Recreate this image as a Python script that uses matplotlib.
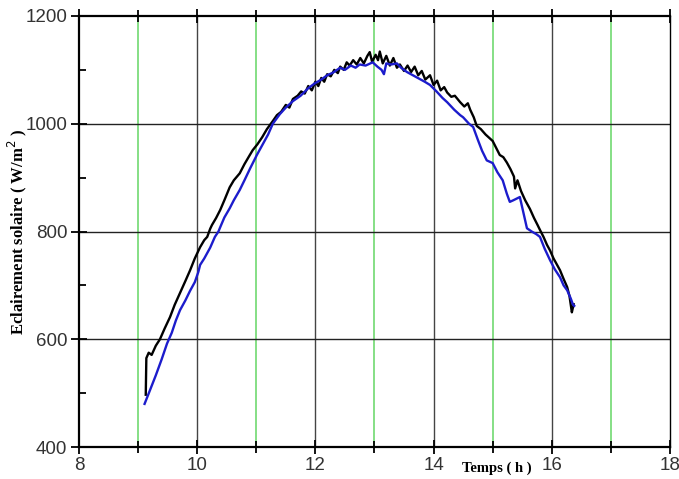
import matplotlib
matplotlib.use("Agg")
import matplotlib.pyplot as plt
from matplotlib.ticker import MultipleLocator

# mesure 1 (noir)
t_black = [9.13, 9.14, 9.18, 9.23, 9.30, 9.37, 9.45, 9.54, 9.62, 9.71, 9.80, 9.88, 9.96,
           10.05, 10.12, 10.17, 10.22, 10.25, 10.32, 10.39, 10.46, 10.55, 10.62, 10.72,
           10.80, 10.88, 10.94, 11.02, 11.10, 11.18, 11.28, 11.35, 11.42, 11.50, 11.56,
           11.62, 11.70, 11.76, 11.82, 11.88, 11.94, 12.00, 12.05, 12.10, 12.15, 12.20,
           12.26, 12.32, 12.38, 12.42, 12.48, 12.53, 12.58, 12.64, 12.70, 12.76, 12.82,
           12.88, 12.92, 12.96, 13.02, 13.06, 13.09, 13.14, 13.20, 13.26, 13.32, 13.38,
           13.43, 13.50, 13.56, 13.62, 13.68, 13.74, 13.80, 13.86, 13.94, 14.00, 14.06,
           14.12, 14.18, 14.23, 14.30, 14.36, 14.45, 14.52, 14.58, 14.62, 14.68, 14.73,
           14.80, 14.88, 14.94, 15.00, 15.06, 15.12, 15.18, 15.24, 15.30, 15.36, 15.38,
           15.42, 15.48, 15.55, 15.63, 15.70, 15.76, 15.80, 15.86, 15.92, 15.97, 16.03,
           16.08, 16.14, 16.20, 16.26, 16.30, 16.34, 16.36, 16.37]
g_black = [497, 565, 575, 571, 588, 600, 620, 641, 664, 686, 708, 728, 750,
           771, 784, 790, 805, 812, 825, 840, 858, 882, 895, 908,
           925, 940, 951, 962, 975, 990, 1005, 1016, 1022, 1035, 1030,
           1046, 1052, 1060, 1056, 1070, 1062, 1078, 1070, 1085, 1078, 1092,
           1088, 1100, 1094, 1106, 1100, 1114, 1108, 1118, 1110, 1122, 1112,
           1126, 1133, 1115, 1128, 1118, 1134, 1112, 1126, 1108, 1122, 1104,
           1110, 1098, 1108, 1096, 1106, 1090, 1098, 1082, 1090, 1072, 1080,
           1062, 1068, 1058, 1050, 1052, 1040, 1032, 1038, 1026, 1012, 996,
           990, 980, 974, 968, 955, 942, 938, 928, 916, 902, 880,
           895, 875, 858, 842, 825, 812, 803, 790, 775, 765, 750,
           740, 728, 712, 697, 680, 650, 660, 665]

# mesure 2 (bleu)
t_blue = [9.11, 9.20, 9.30, 9.40, 9.49, 9.57, 9.64, 9.71, 9.80, 9.88, 9.96, 10.02, 10.05,
          10.12, 10.22, 10.30, 10.36, 10.39, 10.46, 10.55, 10.62, 10.72, 10.80, 10.90,
          11.01, 11.10, 11.20, 11.28, 11.40, 11.50, 11.62, 11.75, 11.88, 11.99, 12.10,
          12.20, 12.30, 12.42, 12.50, 12.60, 12.68, 12.75, 12.85, 12.97, 13.05, 13.12,
          13.16, 13.20, 13.28, 13.38, 13.45, 13.55, 13.65, 13.75, 13.85, 13.94, 14.05,
          14.15, 14.23, 14.35, 14.45, 14.50, 14.60, 14.67, 14.75, 14.82, 14.90, 15.00,
          15.08, 15.17, 15.24, 15.29, 15.35, 15.46, 15.52, 15.58, 15.66, 15.74, 15.80,
          15.88, 15.97, 16.05, 16.14, 16.20, 16.26, 16.32, 16.36, 16.38]
g_blue = [480, 505, 533, 563, 592, 612, 635, 654, 672, 690, 706, 725, 738,
          750, 770, 790, 800, 808, 826, 843, 858, 877, 895, 918,
          942, 960, 980, 1000, 1018, 1030, 1042, 1052, 1066, 1075, 1082,
          1090, 1095, 1104, 1100, 1108, 1104, 1110, 1108, 1114, 1106, 1100,
          1092, 1112, 1110, 1112, 1104, 1096, 1090, 1084, 1078, 1072, 1060,
          1048, 1040, 1026, 1016, 1012, 1000, 994, 970, 950, 932, 927,
          910, 895, 870, 855, 858, 864, 835, 806, 800, 795, 790,
          768, 747, 730, 715, 700, 691, 676, 664, 662]

green_hours = [9, 11, 13, 15, 17]
black_hours = [10, 12, 14, 16]
h_levels = [600, 800, 1000]

fig = plt.figure(figsize=(6.79, 4.79), dpi=100)
ax = fig.add_axes([0.1163, 0.0668, 0.8704, 0.8998])

for h in green_hours:
    ax.axvline(h, color='#7cdc7c', lw=1.3, zorder=1)
for h in black_hours:
    ax.axvline(h, color='#444444', lw=1.0, zorder=1)
for v in h_levels:
    ax.axhline(v, color='#222222', lw=1.0, zorder=1)

ax.plot(t_black, g_black, color='black', lw=1.7, zorder=3)
ax.plot(t_blue, g_blue, color='#1c1ccc', lw=1.7, zorder=4)

ax.set_xlim(8, 18)
ax.set_ylim(400, 1200)
ax.xaxis.set_major_locator(MultipleLocator(2))
ax.xaxis.set_minor_locator(MultipleLocator(1))
ax.yaxis.set_major_locator(MultipleLocator(200))
ax.yaxis.set_minor_locator(MultipleLocator(100))

ax.tick_params(axis='x', which='major', direction='inout', length=10, width=1.3,
               top=True, labelsize=13.5, labelcolor='#333333', pad=2)
ax.tick_params(axis='x', which='minor', direction='inout', length=8, width=1.3, top=True)
ax.tick_params(axis='y', which='major', direction='inout', length=11, width=1.3,
               labelsize=13.5, labelcolor='#333333', pad=3)
ax.tick_params(axis='y', which='minor', direction='in', length=5, width=1.3)

for s in ['left', 'bottom', 'top']:
    ax.spines[s].set_linewidth(1.6)
ax.spines['right'].set_linewidth(1.0)

for lab in ax.get_xticklabels() + ax.get_yticklabels():
    lab.set_family('Liberation Sans')

ax.set_xlabel('Temps ( h )', family='Liberation Serif', fontweight='bold', fontsize=10.5)
ax.xaxis.set_label_coords(0.707, -0.033)
ax.set_ylabel('Eclairement solaire ( W/m$^2$ )', family='Liberation Serif',
              fontweight='bold', fontsize=12)
ax.yaxis.set_label_coords(-0.084, 0.5)

fig.savefig('out.png', dpi=100)
